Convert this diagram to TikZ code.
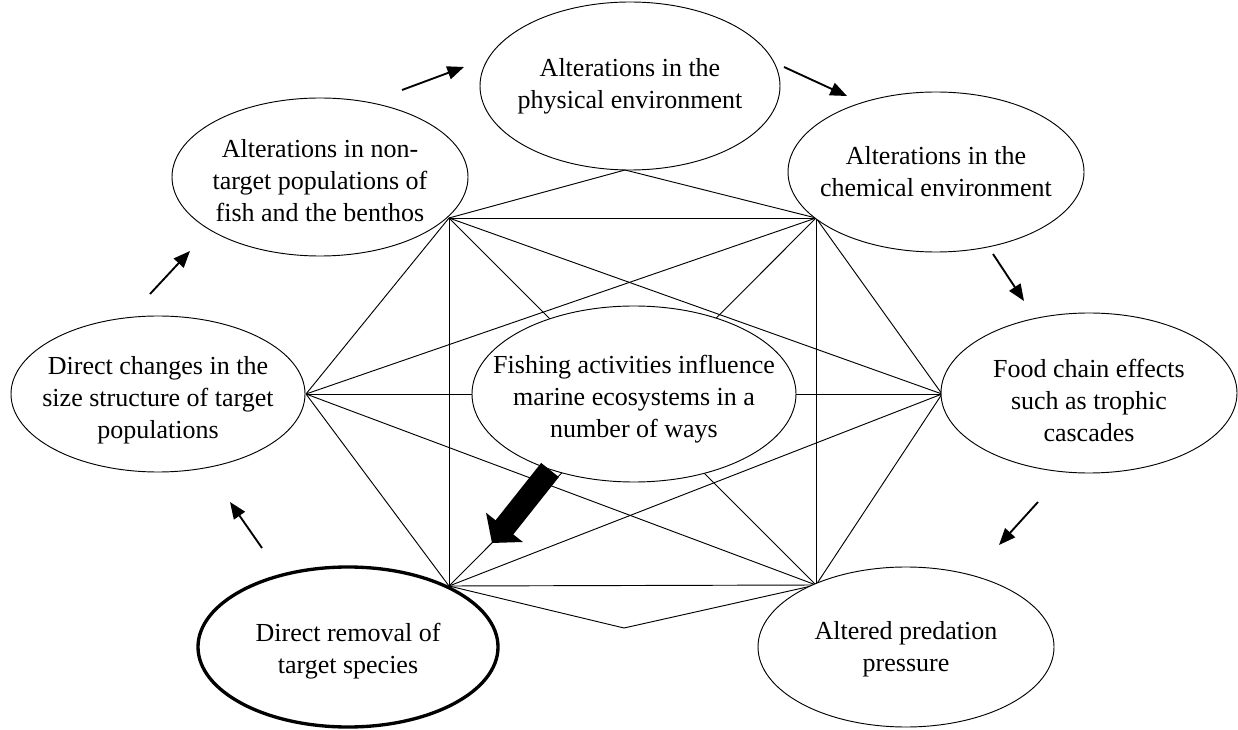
\documentclass[tikz,border=0pt]{standalone}
\usepackage{fontspec}
\setmainfont{Liberation Serif}
\usetikzlibrary{shapes.geometric,arrows.meta}

\begin{document}
\begin{tikzpicture}[x=0.75pt,y=-0.75pt,
  bubble/.style={draw, ellipse, fill=white, line width=0.7pt, inner sep=0pt},
  caption/.style={inner sep=0pt, align=center, font=\fontsize{19.5}{24}\selectfont},
  web/.style={line width=0.7pt},
  flow/.style={line width=1.4pt, -{Triangle[length=12.5pt,width=10pt]}},
  bigflow/.style={line width=17pt, -{Triangle[length=15pt,width=34.5pt]}},
]
\useasboundingbox (0,0) rectangle (1238,730);

% corner points of the linking web
\coordinate (T)  at (625,170);
\coordinate (UL) at (449,218);
\coordinate (UR) at (816,218);
\coordinate (L)  at (306,394);
\coordinate (R)  at (942,394);
\coordinate (LL) at (449,586);
\coordinate (LR) at (816,585);
\coordinate (B)  at (624,628);

% outer ring of the web
\draw[web] (T) -- (UL);
\draw[web] (T) -- (UR);
\draw[web] (B) -- (LL);
\draw[web] (B) -- (LR);
% every pair among the six side points
\foreach \a/\b in {UL/UR, UL/R, UL/LR, UL/LL, UL/L,
                   UR/R, UR/L, UR/LL, UR/LR,
                   R/L, R/LL, R/LR,
                   L/LR, L/LL,
                   LL/LR}
  \draw[web] (\a) -- (\b);

% effect bubbles
\node[bubble, minimum width=225pt, minimum height=126pt] (phys) at (630,86) {};
\node[bubble, minimum width=222pt, minimum height=118.5pt] (nontarget) at (320,177) {};
\node[bubble, minimum width=222pt, minimum height=120pt] (chem) at (936,172) {};
\node[bubble, minimum width=220.5pt, minimum height=117pt] (size) at (158,394) {};
\node[bubble, minimum width=222pt, minimum height=120pt] (food) at (1089,393) {};
\node[bubble, minimum width=222pt, minimum height=120pt] (pred) at (906,647) {};
\node[bubble, line width=2.5pt, minimum width=225pt, minimum height=120pt] (removal) at (348,647) {};
\node[bubble, minimum width=243pt, minimum height=132pt] (fishing) at (634,394) {};

% bubble texts
\node[caption] (physT) at (phys.center) {Alterations in the\\physical environment};
\node[caption] (nontargetT) at ([yshift=-3pt]nontarget.center)
  {Alterations in non-\\target populations of\\fish and the benthos};
\node[caption] (chemT) at (chem.center) {Alterations in the\\chemical environment};
\node[caption] (sizeT) at ([yshift=-5pt]size.center)
  {Direct changes in the\\size structure of target\\populations};
\node[caption] (foodT) at ([yshift=-5.5pt]food.center)
  {Food chain effects\\such as trophic\\cascades};
\node[caption] (predT) at ([yshift=-2pt]pred.center) {Altered predation\\pressure};
\node[caption] (removalT) at ([yshift=-3pt]removal.center) {Direct removal of\\target species};
\node[caption] (fishingT) at ([yshift=-3.5pt]fishing.center)
  {Fishing activities influence\\marine ecosystems in a\\number of ways};

% cycle arrows between the bubbles
\coordinate (a1) at (402,90);   \coordinate (a2) at (464,67);
\coordinate (b1) at (784,67);   \coordinate (b2) at (847,96);
\coordinate (c1) at (993,254);  \coordinate (c2) at (1024,301);
\coordinate (d1) at (1038,502); \coordinate (d2) at (999,545);
\coordinate (e1) at (262,548);  \coordinate (e2) at (230,502);
\coordinate (f1) at (150,294);  \coordinate (f2) at (190,251);
\draw[flow] (a1) -- (a2);
\draw[flow] (b1) -- (b2);
\draw[flow] (c1) -- (c2);
\draw[flow] (d1) -- (d2);
\draw[flow] (e1) -- (e2);
\draw[flow] (f1) -- (f2);

% heavy arrow from below the centre towards the removal bubble
\coordinate (g1) at (550,470);
\coordinate (g2) at (492,543);
\draw[bigflow] (g1) -- (g2);
\end{tikzpicture}
\end{document}
